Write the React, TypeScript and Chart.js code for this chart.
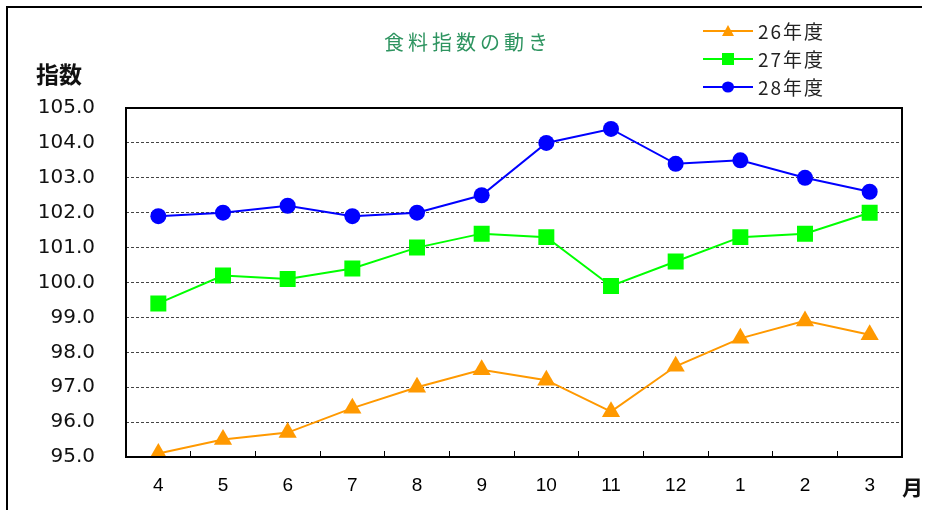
import React, { useEffect, useRef } from "react";
import { Chart, registerables } from "chart.js";

Chart.register(...registerables);

const months = ["4", "5", "6", "7", "8", "9", "10", "11", "12", "1", "2", "3"];
const fy26 = [95.1, 95.5, 95.7, 96.4, 97.0, 97.5, 97.2, 96.3, 97.6, 98.4, 98.9, 98.5];
const fy27 = [99.4, 100.2, 100.1, 100.4, 101.0, 101.4, 101.3, 99.9, 100.6, 101.3, 101.4, 102.0];
const fy28 = [101.9, 102.0, 102.2, 101.9, 102.0, 102.5, 104.0, 104.4, 103.4, 103.5, 103.0, 102.6];
const seriesNames = ["26年度", "27年度", "28年度"];
const seriesColors = ["#FF9900", "#00FF00", "#0000FF"];
const yMin = 95;
const yMax = 105;

const framePlugin = {
  id: "frame",
  afterDraw(chart: any) {
    const { ctx, chartArea } = chart;
    ctx.save();
    ctx.strokeStyle = "#000";
    ctx.lineWidth = 2;
    ctx.strokeRect(chartArea.left, chartArea.top, chartArea.right - chartArea.left, chartArea.bottom - chartArea.top);
    ctx.restore();
  },
};

function LegendMarker({ i }: { i: number }) {
  const c = seriesColors[i];
  return (
    <svg width="50" height="14" style={{ display: "block" }}>
      <line x1="0" y1="7" x2="50" y2="7" stroke={c} strokeWidth="2" />
      {i === 0 && <polygon points="25,1 31,12 19,12" fill={c} />}
      {i === 1 && <rect x="19" y="1" width="12" height="12" fill={c} />}
      {i === 2 && <ellipse cx="25" cy="7" rx="6" ry="5.5" fill={c} />}
    </svg>
  );
}

export default function App() {
  const ref = useRef<HTMLCanvasElement | null>(null);
  useEffect(() => {
    if (!ref.current) return;
    const chart = new Chart(ref.current, {
      type: "line",
      data: {
        labels: months,
        datasets: [
          {
            label: seriesNames[0],
            data: fy26,
            borderColor: seriesColors[0],
            backgroundColor: seriesColors[0],
            borderWidth: 2,
            pointStyle: "triangle",
            pointRadius: 10.5,
            pointBorderWidth: 0,
          },
          {
            label: seriesNames[1],
            data: fy27,
            borderColor: seriesColors[1],
            backgroundColor: seriesColors[1],
            borderWidth: 2,
            pointStyle: "rect",
            pointRadius: 11.3,
            pointBorderWidth: 0,
          },
          {
            label: seriesNames[2],
            data: fy28,
            borderColor: seriesColors[2],
            backgroundColor: seriesColors[2],
            borderWidth: 2,
            pointStyle: "circle",
            pointRadius: 8,
            pointBorderWidth: 0,
          },
        ],
      },
      options: {
        animation: false,
        responsive: false,
        devicePixelRatio: 1,
        layout: { padding: { left: 0, top: 108, right: 24, bottom: 0 } },
        plugins: { legend: { display: false }, title: { display: false }, tooltip: { enabled: false } },
        scales: {
          x: {
            offset: true,
            grid: {
              offset: true,
              display: true,
              drawOnChartArea: false,
              drawTicks: true,
              tickLength: -6,
              color: "#000",
              lineWidth: 1,
            },
            border: { display: false },
            ticks: {
              padding: 23,
              color: "#000",
              font: { family: "'Liberation Sans', Arial, sans-serif", size: 19 },
              maxRotation: 0,
            },
            afterFit(scale: any) {
              scale.height = 53;
            },
          },
          y: {
            min: yMin,
            max: yMax,
            grid: {
              drawTicks: false,
              color: "#444",
              lineWidth: 1,
            },
            border: { display: false, dash: [3, 2] },
            ticks: {
              stepSize: 1,
              padding: 31,
              color: "#111",
              font: { family: "'DejaVu Sans', sans-serif", size: 20 },
              callback: (v: any) => Number(v).toFixed(1),
            },
            afterFit(scale: any) {
              scale.width = 126;
            },
          },
        },
      },
      plugins: [framePlugin],
    } as any);
    return () => chart.destroy();
  }, []);

  return (
    <div style={{ position: "absolute", left: 0, top: 0, width: 926, height: 510, overflow: "hidden", background: "#fff" }}>
      <div
        style={{
          position: "absolute",
          left: 6,
          top: 6,
          width: 914,
          height: 600,
          borderLeft: "2px solid #000",
          borderTop: "2px solid #000",
        }}
      />
      <canvas ref={ref} width={926} height={510} style={{ position: "absolute", left: 0, top: 0, width: 926, height: 510 }} />
      <div
        style={{
          position: "absolute",
          left: 384,
          top: 28,
          fontFamily: "'Noto Sans CJK JP', sans-serif",
          fontSize: 20,
          letterSpacing: 4,
          color: "#2E9460",
          lineHeight: "28px",
          whiteSpace: "nowrap",
        }}
      >
        食料指数の動き
      </div>
      <div
        style={{
          position: "absolute",
          left: 36,
          top: 59,
          fontFamily: "'Noto Sans CJK JP', sans-serif",
          fontSize: 23,
          fontWeight: 700,
          color: "#111",
          lineHeight: "28px",
          whiteSpace: "nowrap",
        }}
      >
        指数
      </div>
      <div
        style={{
          position: "absolute",
          left: 902,
          top: 472,
          fontFamily: "'Noto Sans CJK JP', sans-serif",
          fontSize: 21,
          fontWeight: 700,
          color: "#111",
          lineHeight: "28px",
        }}
      >
        月
      </div>
      {seriesNames.map((n, i) => (
        <div
          key={n}
          style={{ position: "absolute", left: 703, top: 18 + i * 28, display: "flex", alignItems: "center", height: 26 }}
        >
          <LegendMarker i={i} />
          <span
            style={{
              marginLeft: 5,
              fontFamily: "'Noto Sans CJK JP', sans-serif",
              fontSize: 19,
              letterSpacing: 2,
              color: "#222",
              lineHeight: "26px",
              whiteSpace: "nowrap",
            }}
          >
            {n}
          </span>
        </div>
      ))}
    </div>
  );
}
